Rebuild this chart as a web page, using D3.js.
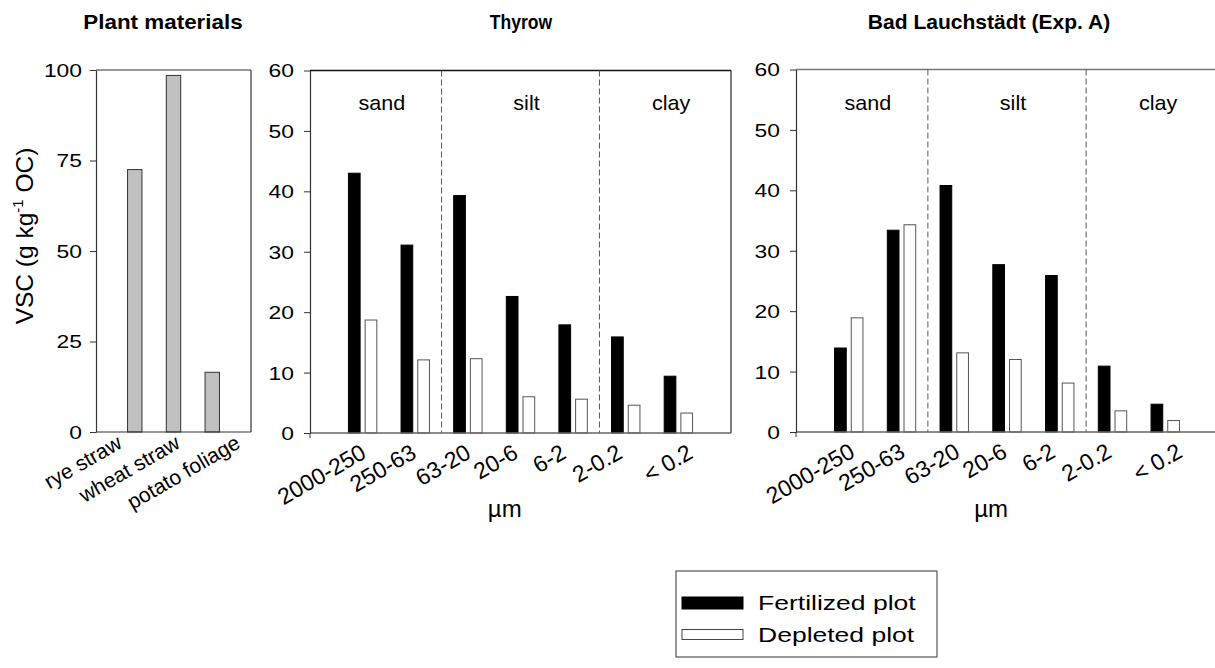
<!DOCTYPE html>
<html><head><meta charset="utf-8">
<script src="https://cdn.jsdelivr.net/npm/d3@7"></script>
<style>
body{margin:0;background:#fff}
svg text{font-family:"Liberation Sans",Arial,sans-serif;fill:#000}
</style>
</head><body>
<svg id="chart" width="1215" height="668"></svg>
<script>
// ---------- data ----------
const plantCats = ["rye straw", "wheat straw", "potato foliage"];
const plantVSC = [72.5, 98.5, 16.5];
const plantTicks = [0, 25, 50, 75, 100];

const fractions = ["2000-250", "250-63", "63-20", "20-6", "6-2", "2-0.2", "< 0.2"];
const thyrowFert = [43.0, 31.1, 39.3, 22.6, 17.9, 15.9, 9.4];
const thyrowDepl = [18.7, 12.1, 12.3, 6.0, 5.6, 4.6, 3.3];
const badFert = [13.9, 33.4, 40.8, 27.7, 25.9, 10.9, 4.6];
const badDepl = [18.9, 34.3, 13.1, 12.0, 8.1, 3.5, 1.9];
const soilTicks = [0, 10, 20, 30, 40, 50, 60];

const textures = ["sand", "silt", "clay"];
const textureFirst = [0, 2, 5];   // index of first fraction in each texture class
const series = ["Fertilized plot", "Depleted plot"];
const titles = ["Plant materials", "Thyrow", "Bad Lauchstädt (Exp. A)"];

// layout nudges for the rotated tick labels (pixels)
const plantLabelNudge = [1.5, 8, 16.5];
const soilLabelNudge = [5, 2.5, 4.5, -1, -5.5, -2, 16];

// ---------- drawing ----------
const svg = d3.select("#chart");
const TICK_SX = 1.27;

function yAxis(g, y, ticks, pad, size) {
  const ax = d3.axisLeft(y).tickValues(ticks).tickSize(6).tickSizeOuter(0).tickPadding(0);
  g.call(ax);
  g.select(".domain").attr("stroke", "#333").attr("stroke-width", 1.2);
  g.selectAll(".tick line").attr("stroke", "#333");
  g.selectAll(".tick text")
    .attr("font-size", size)
    .attr("font-family", "Liberation Sans, Arial, sans-serif")
    .attr("fill", "#000")
    .attr("transform", `scale(${TICK_SX},1)`)
    .attr("x", -pad / TICK_SX)
    .attr("dy", "0.36em");
}

function rotatedLabels(g, labels, xs, yBase, size) {
  labels.forEach((lab, i) => {
    g.append("text")
      .attr("font-size", size)
      .attr("text-anchor", "end")
      .attr("transform", `translate(${xs(i)},${yBase}) rotate(-30)`)
      .text(lab);
  });
}

// ----- Panel 1: plant materials -----
{
  const x0 = 96, x1 = 251, yT = 70, yB = 432;
  const y = d3.scaleLinear().domain([0, 100]).range([yB, yT]);
  const xs = d3.scaleLinear().domain([0, plantCats.length + 1]).range([x0, x1]);
  const g = svg.append("g");
  g.append("line").attr("x1", x0).attr("x2", x1).attr("y1", yT).attr("y2", yT).attr("stroke", "#333").attr("stroke-width", 1.2);
  g.append("line").attr("x1", x1).attr("x2", x1).attr("y1", yT).attr("y2", yB).attr("stroke", "#333").attr("stroke-width", 1.2);
  g.selectAll("rect.b").data(plantVSC).join("rect")
    .attr("x", (d, i) => xs(i + 1) - 7.2)
    .attr("width", 14.4)
    .attr("y", d => y(d))
    .attr("height", d => y(0) - y(d))
    .attr("fill", "#c0c0c0").attr("stroke", "#333").attr("stroke-width", 1);
  g.append("line").attr("x1", x0).attr("x2", x1).attr("y1", yB).attr("y2", yB).attr("stroke", "#333").attr("stroke-width", 1.2);
  const ag = g.append("g").attr("transform", `translate(${x0},0)`);
  yAxis(ag, y, plantTicks, 14, 18);
  const lab = d3.scaleBand().domain(d3.range(plantCats.length)).range([x0, x1]);
  rotatedLabels(g, plantCats, i => lab(i) + lab.bandwidth() / 2 + plantLabelNudge[i], yB + 15, 21);
  const yt = g.append("text")
    .attr("transform", `translate(33,236) rotate(-90)`)
    .attr("text-anchor", "middle")
    .attr("font-size", 24.5);
  yt.append("tspan").text("VSC (g kg");
  yt.append("tspan").attr("font-size", 15).attr("dy", -10).text("-1");
  yt.append("tspan").attr("dy", 10).text(" OC)");
  svg.append("text").attr("transform", "translate(163,29) scale(1.15,1)").attr("text-anchor", "middle")
    .attr("font-size", 19.5).attr("font-weight", "bold").text(titles[0]);
}

// ----- soil panels -----
function soilPanel(cfg) {
  const {x0, x1, yT, yB, fert, depl, title, titleX, titleSX, frameRight, topColor, labelShift} = cfg;
  const y = d3.scaleLinear().domain([0, 60]).range([yB, yT]);
  const xs = d3.scaleLinear().domain([0, fractions.length + 1]).range([x0, x1]);
  const sub = d3.scaleBand().domain(series).range([-14.2, 14.2]).paddingInner(0.3);
  const g = svg.append("g");
  g.append("line").attr("x1", x0).attr("x2", x1).attr("y1", yT).attr("y2", yT).attr("stroke", topColor).attr("stroke-width", 1.3);
  if (frameRight) g.append("line").attr("x1", x1).attr("x2", x1).attr("y1", yT).attr("y2", yB).attr("stroke", "#222").attr("stroke-width", 1.2);
  textureFirst.slice(1).forEach(k => {
    g.append("line").attr("x1", xs(k + 0.5)).attr("x2", xs(k + 0.5)).attr("y1", yT).attr("y2", yB)
      .attr("stroke", "#555").attr("stroke-width", 1).attr("stroke-dasharray", "6,3");
  });
  textures.forEach((t, j) => {
    const a = j === 0 ? 0 : textureFirst[j] + 0.5;
    const b = j === textures.length - 1 ? fractions.length + 1 : textureFirst[j + 1] + 0.5;
    g.append("text").attr("text-anchor", "middle")
      .attr("transform", `translate(${(xs(a) + xs(b)) / 2 + 6},110) scale(1.08,1)`)
      .attr("font-size", 20).text(t);
  });
  const rows = fractions.map((f, i) => [{s: series[0], v: fert[i], i}, {s: series[1], v: depl[i], i}]).flat();
  g.selectAll("rect.b").data(rows).join("rect")
    .attr("x", d => xs(d.i + 1) + sub(d.s))
    .attr("width", sub.bandwidth())
    .attr("y", d => y(d.v))
    .attr("height", d => y(0) - y(d.v))
    .attr("fill", d => d.s === series[0] ? "#000" : "#fff")
    .attr("stroke", d => d.s === series[0] ? "#000" : "#555")
    .attr("stroke-width", 1);
  g.append("line").attr("x1", x0).attr("x2", x1).attr("y1", yB).attr("y2", yB).attr("stroke", "#666").attr("stroke-width", 1.3);
  g.append("line").attr("x1", x0).attr("x2", x0).attr("y1", yB).attr("y2", yB + 5).attr("stroke", "#333");
  const ag = g.append("g").attr("transform", `translate(${x0},0)`);
  yAxis(ag, y, soilTicks, 16, 18);
  rotatedLabels(g, fractions, i => xs(i + 1) + soilLabelNudge[i] + labelShift, yB + 24, 23);
  g.append("text").attr("x", xs(3.7)).attr("y", 517).attr("text-anchor", "middle").attr("font-size", 24).text("µm");
  svg.append("text").attr("transform", `translate(${titleX},29) scale(${titleSX},1)`).attr("text-anchor", "middle")
    .attr("font-size", 19.5).attr("font-weight", "bold").text(title);
}
soilPanel({x0: 310, x1: 731, yT: 70.5, yB: 433, fert: thyrowFert, depl: thyrowDepl, title: titles[1], titleX: 521, titleSX: 0.9, frameRight: true, topColor: "#111", labelShift: 0});
soilPanel({x0: 796, x1: 1218, yT: 69.5, yB: 432, fert: badFert, depl: badDepl, title: titles[2], titleX: 989, titleSX: 1.08, frameRight: false, topColor: "#777", labelShift: 2.5});

// ----- legend -----
{
  const g = svg.append("g");
  g.append("rect").attr("x", 676).attr("y", 571).attr("width", 261).attr("height", 86)
    .attr("fill", "none").attr("stroke", "#555").attr("stroke-width", 1.2);
  const sw = [{fill: "#000", stroke: "#000", y: 597, h: 12}, {fill: "#fff", stroke: "#444", y: 629.5, h: 10}];
  series.forEach((s, i) => {
    g.append("rect").attr("x", 682).attr("y", sw[i].y).attr("width", 61).attr("height", sw[i].h)
      .attr("fill", sw[i].fill).attr("stroke", sw[i].stroke).attr("stroke-width", 1);
    g.append("text").attr("transform", `translate(758,${610 + i * 31.5}) scale(1.36,1)`)
      .attr("font-size", 19.5).text(s);
  });
}
</script>
</body></html>
